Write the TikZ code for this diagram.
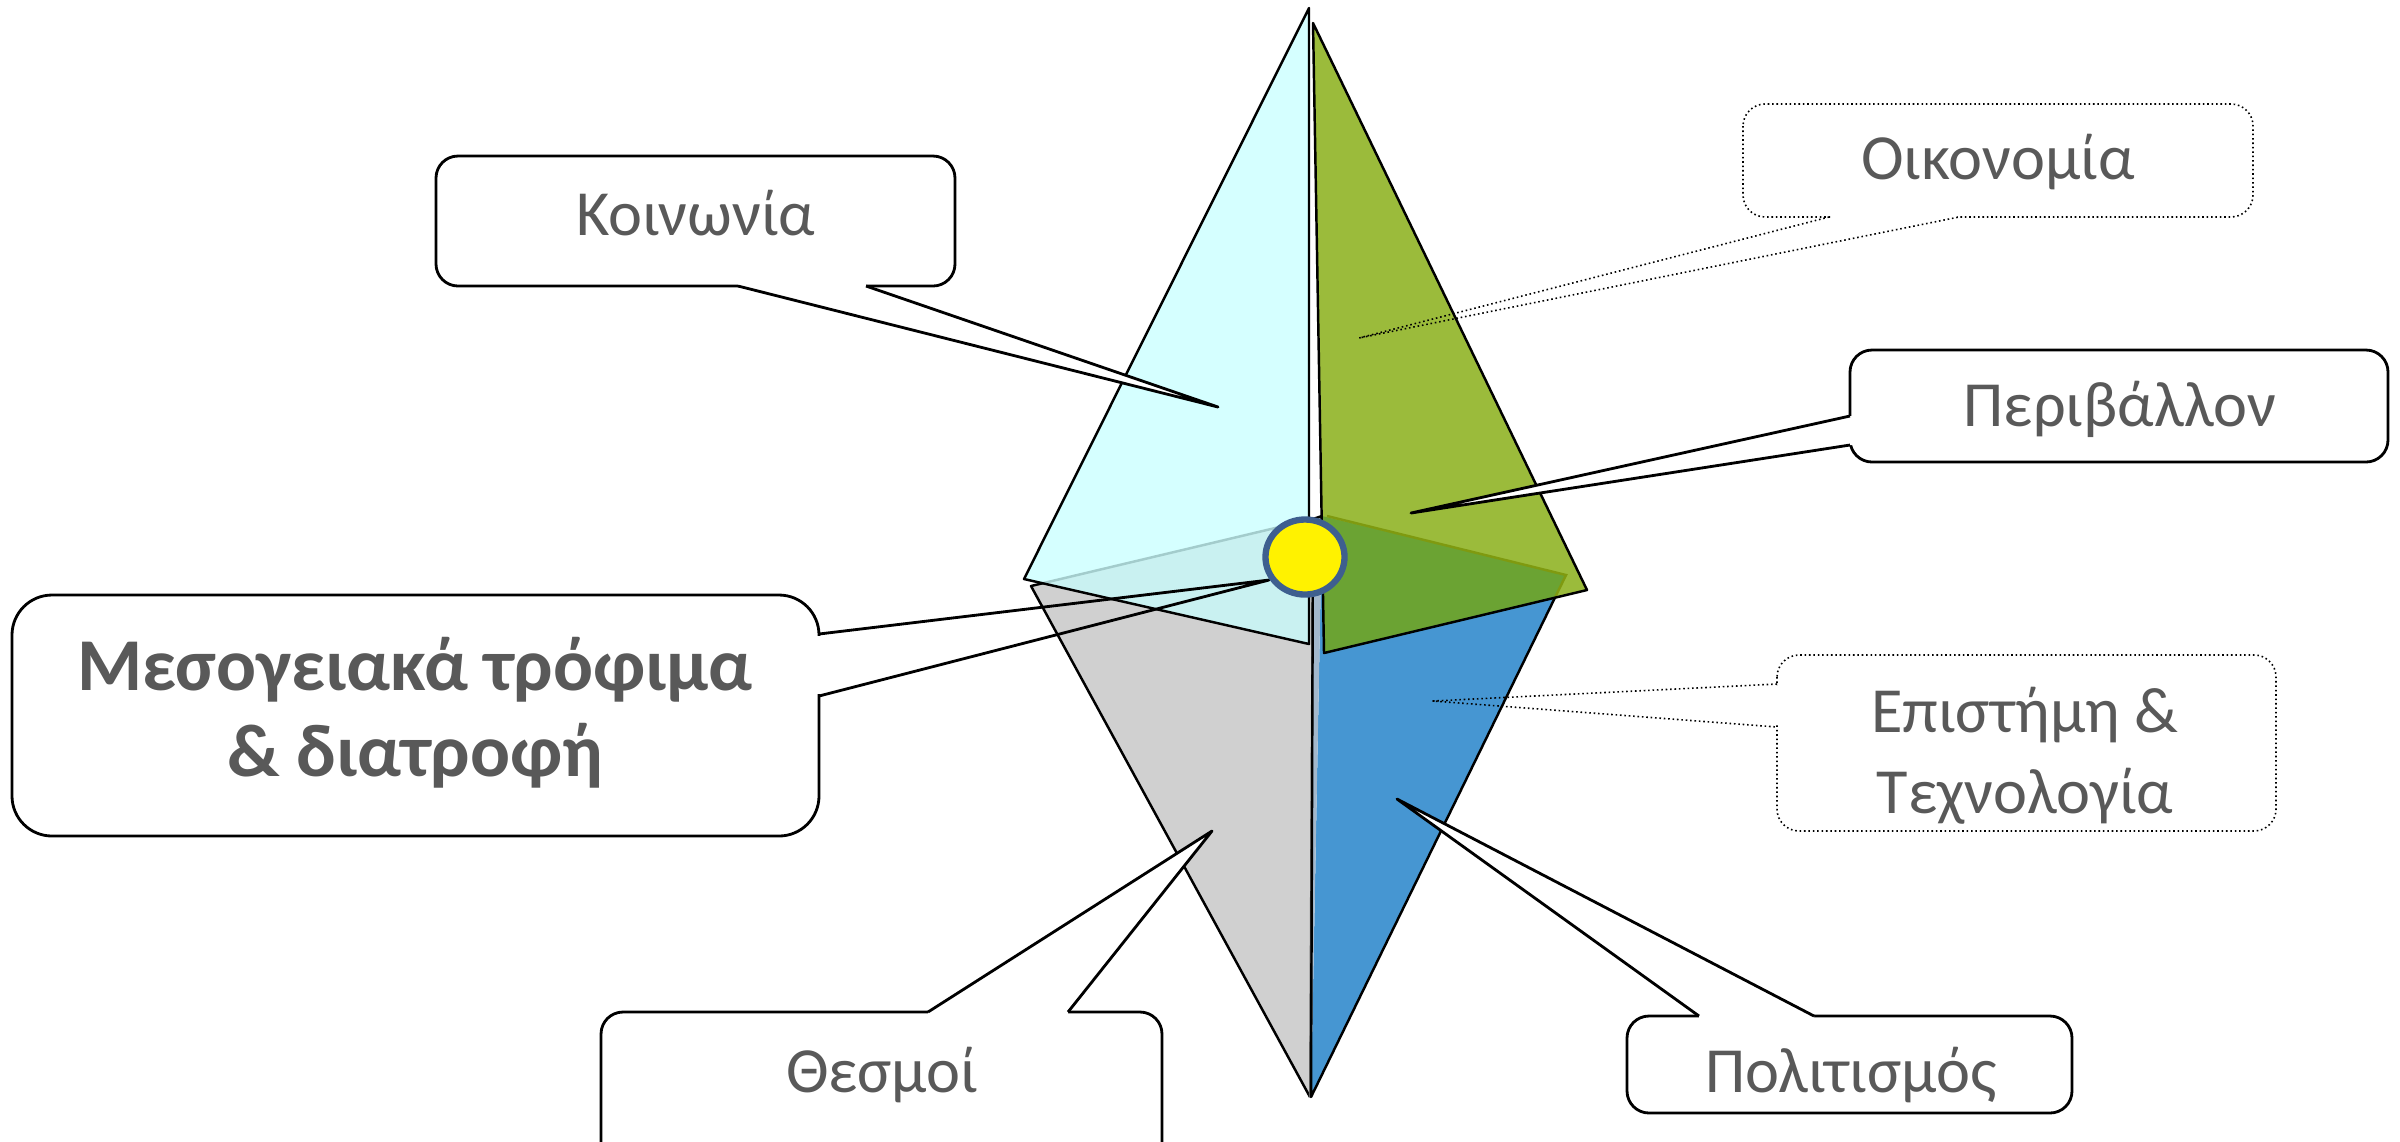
\documentclass[tikz,border=0pt]{standalone}
\usepackage{fontspec}
\setmainfont{Carlito}
\usetikzlibrary{calc,shapes.geometric}

\definecolor{txt}{HTML}{595959}
\definecolor{cyanf}{HTML}{D5FFFF}
\definecolor{cyanov}{HTML}{C9F1F1}
\definecolor{cyanedge}{HTML}{A3CCCC}
\definecolor{grayf}{HTML}{D0D0D0}
\definecolor{bluef}{HTML}{4696D2}
\definecolor{greenf}{HTML}{9BBB3B}
\definecolor{dgreen}{HTML}{6BA333}
\definecolor{olive}{HTML}{7F9A10}
\definecolor{stripef}{HTML}{A3B8CC}
\definecolor{circb}{HTML}{3E5F8F}

\tikzset{
  faceline/.style={draw=black, line width=0.7pt, line join=round},
  boxshape/.style={draw=black, line width=0.8pt, rounded corners=0.22cm},
  dotshape/.style={draw=black, line width=0.45pt, dash pattern=on 0.45pt off 0.8pt, rounded corners=0.22cm},
  tailline/.style={draw=black, line width=0.8pt, line join=round},
  dottail/.style={draw=black, line width=0.45pt, dash pattern=on 0.45pt off 0.8pt, line join=round},
  lbl/.style={text=txt, font=\fontsize{18.3}{23}\selectfont, align=center, inner sep=0pt},
  biglbl/.style={text=txt, font=\fontsize{21.2}{24.4}\selectfont\bfseries, align=center, inner sep=0pt},
}

\begin{document}
\begin{tikzpicture}[x=0.01cm, y=-0.01cm]
\useasboundingbox (0,0) rectangle (2400,1141);

% ---- pyramid corners ----
\coordinate (cTop) at (1309,8);
\coordinate (cLeft) at (1024,579);
\coordinate (cLow) at (1309,644);
\coordinate (gTop) at (1313,23);
\coordinate (gRight) at (1587,590);
\coordinate (gLow) at (1324,653);
\coordinate (yLeft) at (1031,586);
\coordinate (yTop) at (1313,519);
\coordinate (yBot) at (1310,1097);
\coordinate (bTop) at (1322,516);
\coordinate (bRight) at (1566,575);
\coordinate (bBot) at (1311,1097);

% lower faces
\fill[grayf] (yLeft) -- (yTop) -- (yBot) -- cycle;
\draw[faceline] (yTop) -- (yLeft) -- (yBot);
\fill[bluef] (bTop) -- (bRight) -- (bBot) -- cycle;
% thin vertical sliver between the lower faces
\fill[stripef] (yTop) -- (bTop) -- (bBot) -- (yBot) -- cycle;
\draw[gray!85!black, line width=0.6pt] (yTop) -- (yBot);
\draw[faceline] (yTop) -- (bTop) -- (bRight) -- (bBot) -- cycle;

% upper faces
\fill[cyanf] (cTop) -- (cLeft) -- (cLow) -- cycle;
\begin{scope}
  \clip (cTop) -- (cLeft) -- (cLow) -- cycle;
  \fill[cyanov] (yLeft) -- (yTop) -- (yBot) -- cycle;
  \draw[cyanedge, line width=0.7pt] (yLeft) -- (yTop);
\end{scope}
\draw[faceline] (cTop) -- (cLeft) -- (cLow) -- cycle;

\fill[greenf] (gTop) -- (gRight) -- (gLow) -- cycle;
\begin{scope}
  \clip (gTop) -- (gRight) -- (gLow) -- cycle;
  \fill[dgreen] (bTop) -- (bRight) -- (bBot) -- cycle;
  \draw[olive, line width=0.7pt] (1327,516) -- (bRight) -- (bBot);
\end{scope}
\draw[faceline] (gTop) -- (gRight) -- (gLow) -- cycle;

% ---- callouts ----
% Koinonia
\coordinate (kTip) at (1218,407);
\draw[boxshape, fill=white] (436,156) rectangle (955,286);
\fill[white] (738,286) -- (kTip) -- (866,286) -- (866,279) -- (738,279) -- cycle;
\draw[tailline] (738,286) -- (kTip) -- (866,286);
\node[lbl] (koinonia) at (696,213) {Κοινωνία};

% Oikonomia
\coordinate (oTip) at (1359,338);
\draw[dotshape] (1743,104) rectangle (2253,217);
\fill[white] (1831,211) rectangle (1957,223);
\draw[dottail] (1829,217) -- (oTip) -- (1959,217);
\node[lbl] (oikonomia) at (1998,162) {Οικονομία};

% Perivallon
\coordinate (pTip) at (1411,513);
\draw[boxshape, fill=white] (1850,350) rectangle (2388,462);
\fill[white] (1850,416) -- (pTip) -- (1850,445) -- (1857,445) -- (1857,416) -- cycle;
\draw[tailline] (1850,416) -- (pTip) -- (1850,445);
\node[lbl] (perivallon) at (2120,409) {Περιβάλλον};

% Episthmh
\coordinate (eTip) at (1433,701);
\draw[dotshape] (1777,655) rectangle (2276,831);
\fill[white] (1771,686) rectangle (1783,725);
\draw[dottail] (1777,684) -- (eTip) -- (1777,727);
\node[lbl] (episthmh) at (2025,756) {Επιστήμη \&\\Τεχνολογία};

% Politismos
\coordinate (plTip) at (1397,799);
\draw[boxshape, fill=white] (1627,1016) rectangle (2072,1113);
\fill[white] (1699,1016) -- (plTip) -- (1814,1016) -- (1814,1023) -- (1699,1023) -- cycle;
\draw[tailline] (1699,1016) -- (plTip) -- (1814,1016);
\node[lbl] (politismos) at (1851,1075) {Πολιτισμός};

% Thesmoi
\coordinate (tTip) at (1212,831);
\draw[boxshape, fill=white] (601,1012) rectangle (1162,1175);
\fill[white] (928,1012) -- (tTip) -- (1068,1012) -- (1068,1019) -- (928,1019) -- cycle;
\draw[tailline] (928,1012) -- (tTip) -- (1068,1012);
\node[lbl] (thesmoi) at (882,1075) {Θεσμοί};

% Mesogeiaka
\coordinate (mTip) at (1269,580);
\draw[boxshape, rounded corners=0.4cm, fill=white] (12,595) rectangle (819,836);
\fill[white] (813,636) rectangle (825,694);
\draw[tailline] (819,634) -- (mTip) -- (819,696);
\node[biglbl] (mesog) at (415,713) {Μεσογειακά τρόφιμα\\\& διατροφή};

% central marker
\node[ellipse, draw=circb, fill=yellow, line width=1.8pt, minimum width=0.79cm, minimum height=0.75cm, inner sep=0pt] (core) at (1305,557) {};

\end{tikzpicture}
\end{document}
